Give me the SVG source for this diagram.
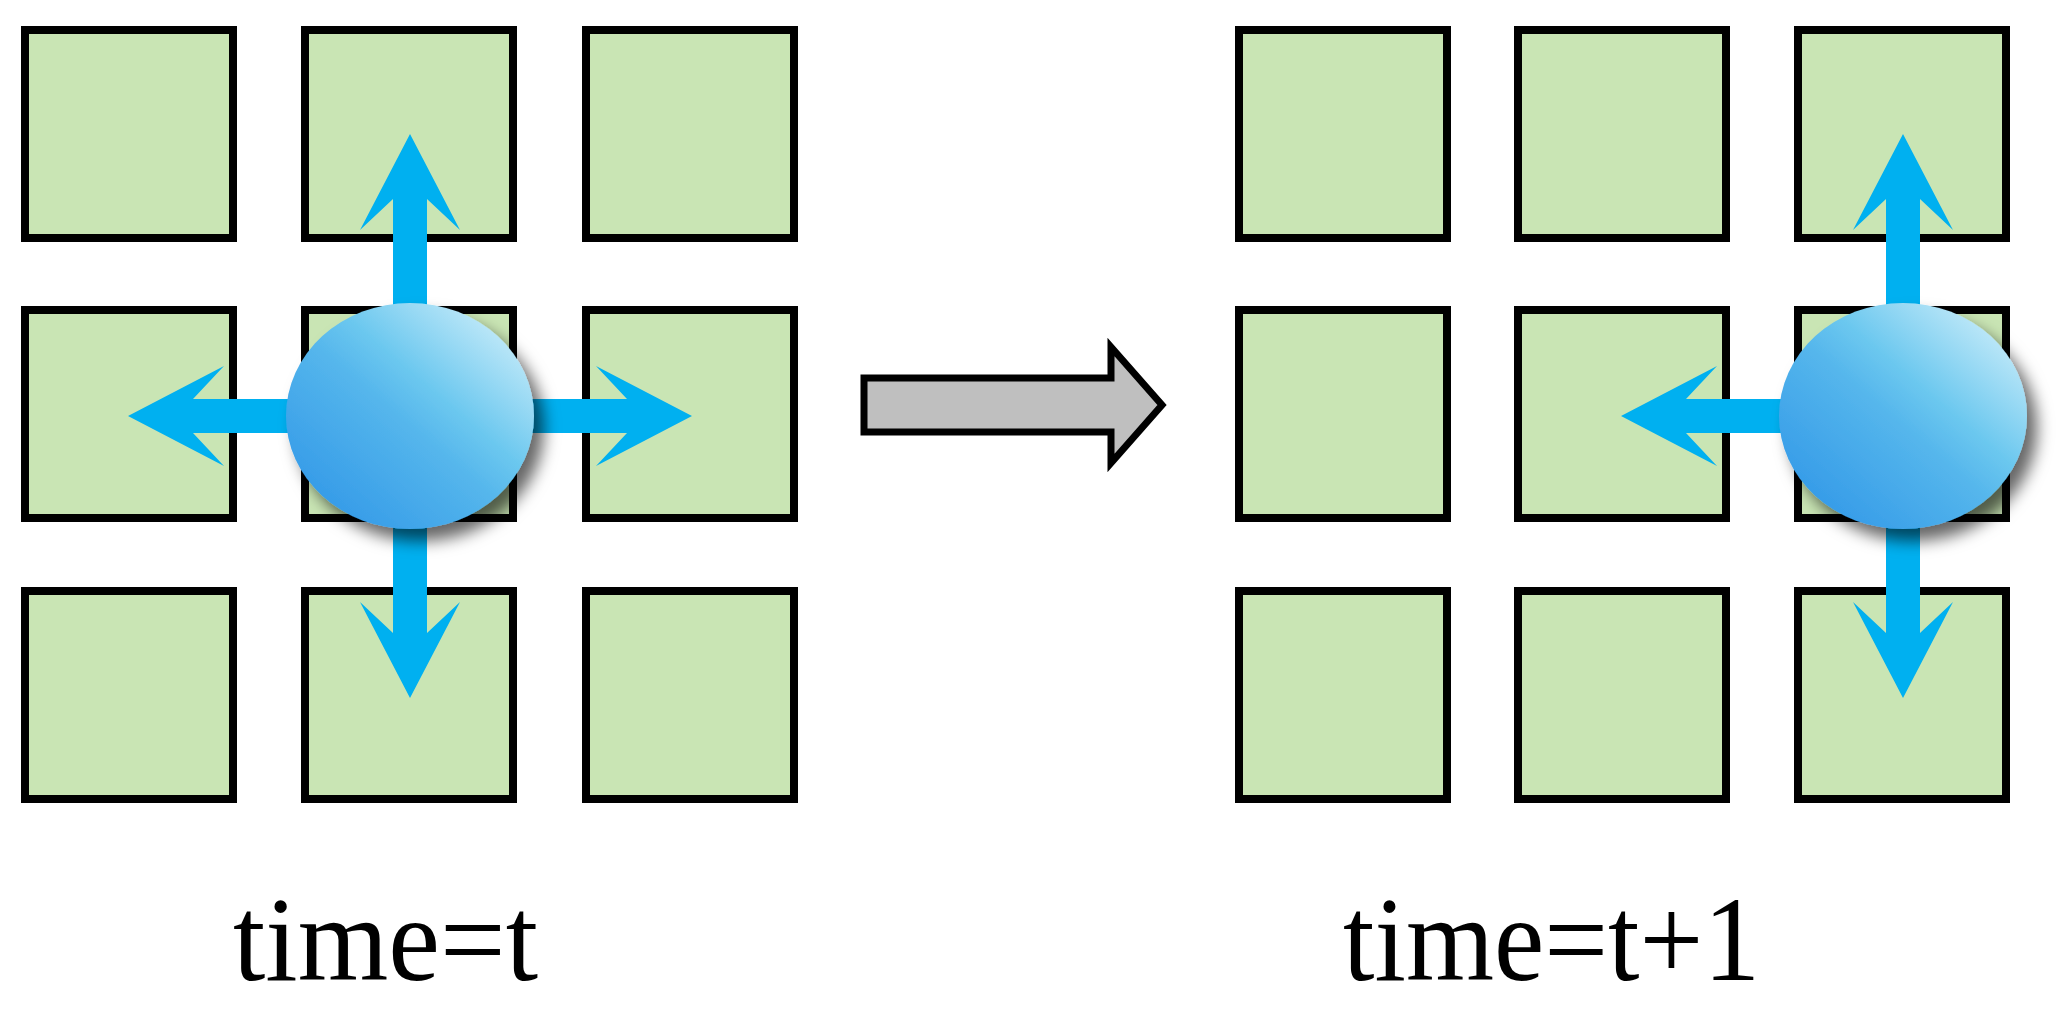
<svg xmlns="http://www.w3.org/2000/svg" xmlns:xlink="http://www.w3.org/1999/xlink" width="2060" height="1018" viewBox="0 0 2060 1018">
<style>
.cell{fill:#c9e5b4;stroke:#000;stroke-width:8}
.blue{fill:#00b0f0}
.label{font-family:"Liberation Serif","Times New Roman",serif;font-size:121px;fill:#000}
</style>
<defs>
<linearGradient id="ballGrad" x1="0.15" y1="0.9" x2="0.9" y2="0.1">
<stop offset="0" stop-color="#359be8"/>
<stop offset="0.45" stop-color="#55b6ec"/>
<stop offset="0.62" stop-color="#6cc8ef"/>
<stop offset="1" stop-color="#c6ebf9"/>
</linearGradient>
<filter id="shadow" x="-30%" y="-30%" width="170%" height="170%">
<feDropShadow dx="10" dy="12" stdDeviation="8" flood-color="#000" flood-opacity="0.6"/>
</filter>
<polygon id="arr" class="blue" points="0,-17 217,-17 186,-50 282,0 186,50 217,17 0,17"/>
</defs>
<rect width="2060" height="1018" fill="#fff"/>
<g id="grid-t">
<g id="t-r1c1"><rect class="cell" x="25" y="30" width="208" height="208"/></g>
<g id="t-r1c2"><rect class="cell" x="305" y="30" width="208" height="208"/></g>
<g id="t-r1c3"><rect class="cell" x="586" y="30" width="208" height="208"/></g>
<g id="t-r2c1"><rect class="cell" x="25" y="310" width="208" height="208"/></g>
<g id="t-r2c2"><rect class="cell" x="305" y="310" width="208" height="208"/></g>
<g id="t-r2c3"><rect class="cell" x="586" y="310" width="208" height="208"/></g>
<g id="t-r3c1"><rect class="cell" x="25" y="591" width="208" height="208"/></g>
<g id="t-r3c2"><rect class="cell" x="305" y="591" width="208" height="208"/></g>
<g id="t-r3c3"><rect class="cell" x="586" y="591" width="208" height="208"/></g>
</g>
<g id="grid-t1">
<g id="t1-r1c1"><rect class="cell" x="1239" y="30" width="208" height="208"/></g>
<g id="t1-r1c2"><rect class="cell" x="1518" y="30" width="208" height="208"/></g>
<g id="t1-r1c3"><rect class="cell" x="1798" y="30" width="208" height="208"/></g>
<g id="t1-r2c1"><rect class="cell" x="1239" y="310" width="208" height="208"/></g>
<g id="t1-r2c2"><rect class="cell" x="1518" y="310" width="208" height="208"/></g>
<g id="t1-r2c3"><rect class="cell" x="1798" y="310" width="208" height="208"/></g>
<g id="t1-r3c1"><rect class="cell" x="1239" y="591" width="208" height="208"/></g>
<g id="t1-r3c2"><rect class="cell" x="1518" y="591" width="208" height="208"/></g>
<g id="t1-r3c3"><rect class="cell" x="1798" y="591" width="208" height="208"/></g>
</g>
<g id="connectors">
<use xlink:href="#arr" href="#arr" transform="translate(410,416) rotate(-90)"/>
<use xlink:href="#arr" href="#arr" transform="translate(410,416)"/>
<use xlink:href="#arr" href="#arr" transform="translate(410,416) rotate(90)"/>
<use xlink:href="#arr" href="#arr" transform="translate(410,416) rotate(180)"/>
<use xlink:href="#arr" href="#arr" transform="translate(1903,416) rotate(-90)"/>
<use xlink:href="#arr" href="#arr" transform="translate(1903,416) rotate(90)"/>
<use xlink:href="#arr" href="#arr" transform="translate(1903,416) rotate(180)"/>
<polygon id="time-arrow" points="864,378 1111,378 1111,347 1162,405 1111,463 1111,432 864,432" fill="#bfbfbf" stroke="#000" stroke-width="7"/>
</g>
<g id="ball-t"><ellipse cx="410" cy="416" rx="124" ry="113" fill="url(#ballGrad)" filter="url(#shadow)"/></g>
<g id="ball-t1"><ellipse cx="1903" cy="416" rx="124" ry="113" fill="url(#ballGrad)" filter="url(#shadow)"/></g>
<g id="label-t"><text class="label" x="233" y="980" textLength="305" lengthAdjust="spacingAndGlyphs">time=t</text></g>
<g id="label-t1"><text class="label" x="1343" y="980" textLength="417" lengthAdjust="spacingAndGlyphs">time=t+1</text></g>
</svg>
